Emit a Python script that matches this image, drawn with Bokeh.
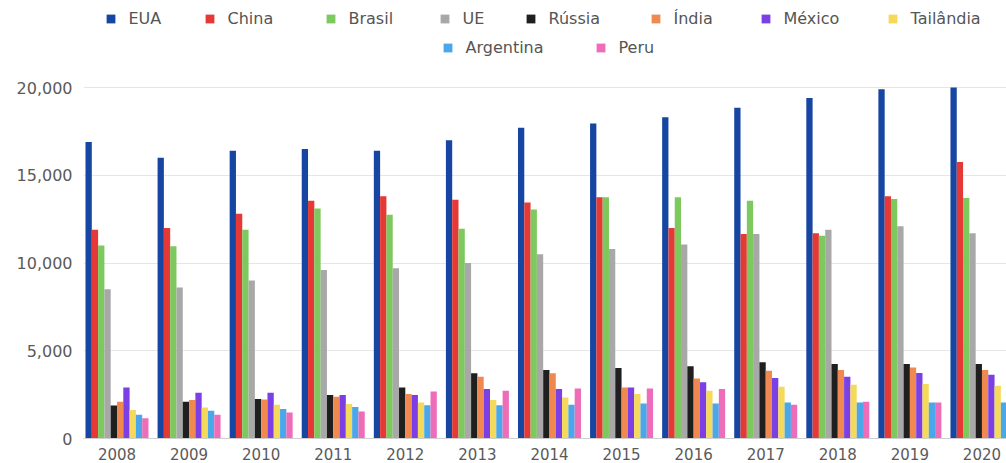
from bokeh.plotting import figure
from bokeh.models import (Range1d, FixedTicker, NumeralTickFormatter, Legend, LegendItem,
                          ColumnDataSource)
from bokeh.embed import file_html
from bokeh.resources import INLINE

years = ["2008", "2009", "2010", "2011", "2012", "2013", "2014",
         "2015", "2016", "2017", "2018", "2019", "2020"]

series_names = ["EUA", "China", "Brasil", "UE", "Rússia", "Índia",
                "México", "Tailândia", "Argentina", "Peru"]

eua = [16900, 16000, 16400, 16500, 16400, 17000, 17700, 17950, 18300, 18850, 19400, 19900, 20000]
china = [11900, 12000, 12800, 13550, 13800, 13600, 13450, 13750, 12000, 11650, 11700, 13800, 15750]
brasil = [11000, 10950, 11900, 13100, 12750, 11950, 13050, 13750, 13750, 13550, 11550, 13650, 13700]
ue = [8500, 8600, 9000, 9600, 9700, 10000, 10500, 10800, 11050, 11650, 11900, 12100, 11700]
russia = [1880, 2100, 2250, 2480, 2900, 3720, 3900, 4020, 4120, 4340, 4240, 4240, 4240]
india = [2100, 2200, 2220, 2380, 2530, 3520, 3720, 2900, 3420, 3860, 3900, 4050, 3900]
mexico = [2900, 2600, 2600, 2480, 2480, 2820, 2820, 2900, 3200, 3450, 3520, 3730, 3630]
tailandia = [1620, 1770, 1920, 1960, 2050, 2200, 2340, 2530, 2720, 2950, 3060, 3100, 3000]
argentina = [1350, 1580, 1680, 1800, 1900, 1900, 1920, 2000, 2000, 2050, 2050, 2050, 2050]
peru = [1160, 1350, 1480, 1540, 2680, 2720, 2850, 2850, 2820, 1920, 2090, 2050, 2050]

y_ticks = [0, 5000, 10000, 15000, 20000]

all_series = [eua, china, brasil, ue, russia, india, mexico, tailandia, argentina, peru]
colors = ["#1746A2", "#E53935", "#7DC95E", "#A8A8A8", "#1F1F1F",
          "#F0894F", "#7B3FE4", "#F5D95A", "#4AA8EA", "#EE6DB8"]

# layout constants (pixels)
FRAME_LEFT = 83
FRAME_W = 1006 - FRAME_LEFT
FRAME_H = 438
Y20K_PX = 87          # pixel row of the 20,000 gridline
PERIOD_PX = 72.08     # pixels per year group
FIRST_CENTER_PX = 116.5
FONT = "DejaVu Sans"

x_start = -(FIRST_CENTER_PX - FRAME_LEFT) / PERIOD_PX
x_end = x_start + FRAME_W / PERIOD_PX
y_end = 20000 * FRAME_H / (FRAME_H - Y20K_PX)

p = figure(frame_width=FRAME_W, frame_height=FRAME_H,
           x_range=Range1d(x_start, x_end), y_range=Range1d(0, y_end),
           output_backend="svg", toolbar_location=None,
           min_border_left=FRAME_LEFT, min_border_right=0,
           min_border_top=0, min_border_bottom=25)
p.outline_line_color = None
p.background_fill_color = "white"
p.border_fill_color = "white"

bw = 0.0874
n = len(all_series)
renderers = []
for j, (vals, col) in enumerate(zip(all_series, colors)):
    xs = [i + (j - (n - 1) / 2) * bw for i in range(len(years))]
    src = ColumnDataSource(dict(x=xs, top=vals))
    r = p.vbar(x="x", top="top", width=bw, source=src, fill_color=col,
               line_color=None)
    renderers.append(r)

# axes
p.xaxis.ticker = FixedTicker(ticks=list(range(len(years))))
p.xaxis.major_label_overrides = {i: y for i, y in enumerate(years)}
p.xaxis.axis_line_color = "#cfcfcf"
p.xaxis.major_tick_line_color = None
p.xaxis.minor_tick_line_color = None
p.xaxis.major_tick_out = 0
p.xaxis.major_label_standoff = 9
p.xaxis.major_label_text_font = FONT
p.xaxis.major_label_text_font_size = "15px"
p.xaxis.major_label_text_color = "#5a5a5a"

p.yaxis.ticker = FixedTicker(ticks=y_ticks)
p.yaxis.formatter = NumeralTickFormatter(format="0,0")
p.yaxis.axis_line_color = None
p.yaxis.major_tick_line_color = None
p.yaxis.minor_tick_line_color = None
p.yaxis.major_tick_out = 0
p.yaxis.major_label_standoff = 11
p.yaxis.major_label_text_font = FONT
p.yaxis.major_label_text_font_size = "16px"
p.yaxis.major_label_text_color = "#5a5a5a"

p.xgrid.grid_line_color = None
p.ygrid.grid_line_color = "#e6e6e6"
p.ygrid.ticker = FixedTicker(ticks=y_ticks)

# legend: one entry per legend so the squares sit where they do in the reference
legend_centers = [(110, 18), (209, 18), (330, 18), (444, 18), (530, 18),
                  (655, 18), (765, 18), (892, 18), (447, 47), (600, 47)]
SQ = 11
ITEM_H = 22
for name, r, (cx, cy) in zip(series_names, renderers, legend_centers):
    leg = Legend(items=[LegendItem(label=name, renderers=[r])],
                 location=(cx - SQ / 2 - FRAME_LEFT, FRAME_H - (cy + ITEM_H / 2)),
                 orientation="horizontal", glyph_width=SQ, glyph_height=SQ,
                 label_height=ITEM_H, label_standoff=13, padding=0, margin=0,
                 spacing=0, border_line_color=None, background_fill_alpha=0,
                 label_text_font=FONT, label_text_font_size="16px",
                 label_text_color="#555555")
    p.add_layout(leg)

open("out.html", "w").write(file_html(p, INLINE))
